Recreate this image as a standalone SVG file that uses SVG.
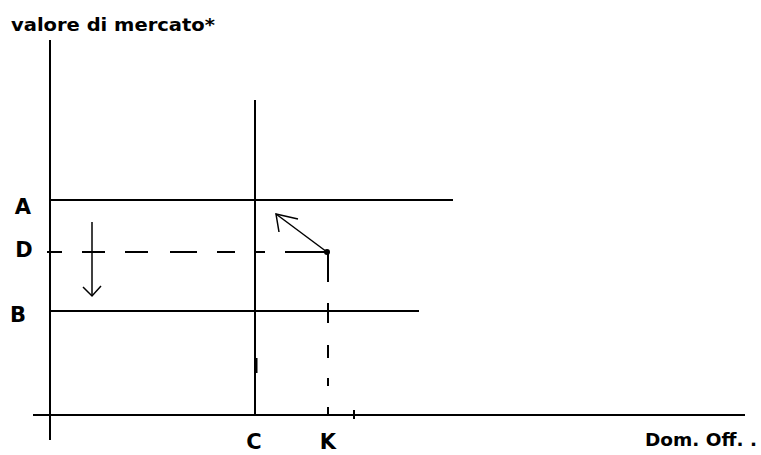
<svg xmlns="http://www.w3.org/2000/svg" width="761" height="455" viewBox="0 0 761 455">
<style>
.ln{stroke:#000;stroke-width:2;fill:none}
.th{stroke:#000;stroke-width:1.5;fill:none}
.lb{font-family:"DejaVu Sans","Liberation Sans",Arial,sans-serif;font-weight:bold;font-size:21px;fill:#000}
.tt{font-family:"DejaVu Sans","Liberation Sans",Arial,sans-serif;font-weight:bold;font-size:17px;fill:#000}
</style>
<rect width="761" height="455" fill="#fff"/>
<g id="axes">
<line class="ln" x1="50" y1="40" x2="50" y2="440"/>
<line class="ln" x1="33" y1="415" x2="745" y2="415"/>
</g>
<g id="lineA"><line class="ln" x1="50" y1="200" x2="453" y2="200"/></g>
<g id="lineB"><line class="ln" x1="50" y1="311" x2="419" y2="311"/></g>
<g id="lineC">
<line class="ln" x1="255" y1="100" x2="255" y2="415"/>
<rect x="254.5" y="358" width="3" height="15" fill="#000"/>
</g>
<g id="connectors">
<g id="lineD">
<path class="ln" d="M47 252H62M82 252H105M125 252H148M170 252H197M217 252H235M255 252H265M285 252H328"/>
</g>
<g id="lineK">
<path class="ln" d="M328 252V282M328 303V323M328 345V358M328 378V386M328 407V415"/>
<line class="ln" x1="354" y1="410" x2="354" y2="419"/>
</g>
<g id="arrowDown">
<line class="th" x1="92" y1="222" x2="92" y2="296"/>
<polyline class="th" points="83,287 92,296 101,286"/>
</g>
<g id="arrowDiag">
<line class="th" x1="327" y1="252" x2="276" y2="214"/>
<polyline class="th" points="298,219 276,214 279,232"/>
<circle cx="327" cy="252" r="3" fill="#000"/>
</g>
</g>
<g id="labels">
<text class="tt" x="11" y="31" textLength="204" lengthAdjust="spacingAndGlyphs">valore di mercato*</text>
<text class="lb" x="23" y="214" text-anchor="middle">A</text>
<text class="lb" x="24" y="257" text-anchor="middle">D</text>
<text class="lb" x="18" y="322" text-anchor="middle">B</text>
<text class="lb" x="254" y="449" text-anchor="middle">C</text>
<text class="lb" x="328" y="449" text-anchor="middle">K</text>
<text class="tt" x="645" y="446" textLength="112" lengthAdjust="spacingAndGlyphs">Dom. Off. .</text>
</g>
</svg>
